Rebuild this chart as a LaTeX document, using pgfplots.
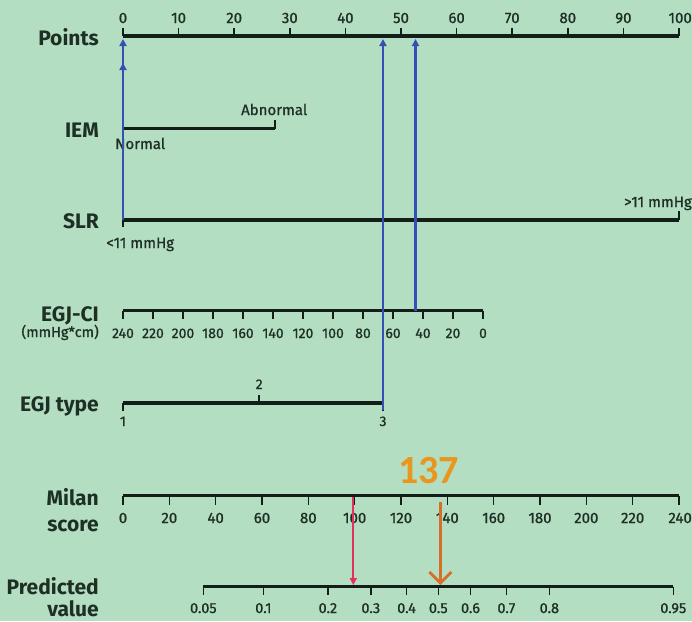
\documentclass[border=0pt]{standalone}
\usepackage{pgfplots}
\pgfplotsset{compat=1.18}
\usepackage{fontspec}
\setmainfont{Fira Sans}
\newfontfamily\tickfont{Fira Sans}[FakeBold=0.9]
\newfontfamily\numfont{Carlito}
\usetikzlibrary{arrows.meta}

\definecolor{bg}{RGB}{180,222,193}
\definecolor{ink}{RGB}{30,48,38}
\definecolor{scaleink}{RGB}{20,30,24}
\definecolor{pathblue}{RGB}{52,80,180}
\definecolor{pathred}{RGB}{228,48,92}
\definecolor{pathorange}{RGB}{214,110,44}
\definecolor{labelorange}{RGB}{232,150,30}

\tikzset{
  varname/.style={anchor=base east, inner sep=0pt, text=ink, font=\fontsize{21}{23}\selectfont\bfseries},
  lab/.style={anchor=base, inner sep=0pt, text=ink, font=\tickfont\fontsize{15}{17}\selectfont},
  slab/.style={anchor=base, inner sep=0pt, text=ink, font=\tickfont\fontsize{14}{16}\selectfont},
  plab/.style={anchor=base, inner sep=0pt, text=ink, font=\tickfont\fontsize{14.5}{16}\selectfont},
  scaleline/.style={scaleink, line width=3.8pt, line cap=butt},
  tickline/.style={scaleink, line width=1.5pt},
  bluepath/.style={color=pathblue, line width=2.4pt, -{Triangle[length=7pt,width=7pt]}},
}

% x: nomogram points (0..100), y: rows from the top
\begin{document}
\begin{tikzpicture}
\begin{axis}[
  scale only axis, width=692pt, height=621pt,
  xmin=-22.122, xmax=102.338, ymin=0, ymax=621, y dir=reverse,
  hide axis, clip=false,
]
\fill[bg] (axis cs:-22.122,0) rectangle (axis cs:102.338,621);

% ---------- Points ----------
\addplot[scaleline] coordinates {(0,36) (100,36)};
\addplot[tickline, no marks, quiver={u=0,v=-8}] coordinates {
  (0,36) (10,36) (20,36) (30,36) (40,36) (50,36) (60,36) (70,36) (80,36) (90,36) (100,36)};
\node[varname] at (axis cs:-4.32,45) {Points};
\node[lab] at (axis cs:0,23) {0};
\node[lab] at (axis cs:10,23) {10};
\node[lab] at (axis cs:20,23) {20};
\node[lab] at (axis cs:30,23) {30};
\node[lab] at (axis cs:40,23) {40};
\node[lab] at (axis cs:50,23) {50};
\node[lab] at (axis cs:60,23) {60};
\node[lab] at (axis cs:70,23) {70};
\node[lab] at (axis cs:80,23) {80};
\node[lab] at (axis cs:90,23) {90};
\node[lab, anchor=base east] at (axis cs:102.338,23) {100};

% ---------- IEM ----------
\addplot[scaleline] coordinates {(0,128.5) (27.3,128.5)};
\addplot[tickline, no marks, quiver={u=0,v=7}] coordinates {(0,128.5)};
\addplot[tickline, no marks, quiver={u=0,v=-9}] coordinates {(27.3,128.5)};
\node[varname] at (axis cs:-4.32,137) {IEM};
\node[lab] at (axis cs:27.2,115) {Abnormal};
\node[lab] at (axis cs:3.1,149) {Normal};

% ---------- SLR ----------
\addplot[scaleline] coordinates {(0,220) (100,220)};
\addplot[tickline, no marks, quiver={u=0,v=7}] coordinates {(0,220)};
\addplot[tickline, no marks, quiver={u=0,v=-9}] coordinates {(100,220)};
\node[varname] at (axis cs:-4.32,228) {SLR};
\node[lab] at (axis cs:3.1,248) {<11 mmHg};
\node[lab, anchor=base east] at (axis cs:102.338,207) {>11 mmHg};

% ---------- EGJ-CI (240 at the left, 0 at the right) ----------
\addplot[scaleline] coordinates {(0,310.5) (64.75,310.5)};
\addplot[tickline, no marks, quiver={u=0,v=8}] coordinates {
  (0,310.5) (5.396,310.5) (10.792,310.5) (16.188,310.5) (21.583,310.5) (26.979,310.5)
  (32.375,310.5) (37.771,310.5) (43.167,310.5) (48.563,310.5) (53.958,310.5)
  (59.354,310.5) (64.75,310.5)};
\node[varname] at (axis cs:-4.32,321) {EGJ-CI};
\node[plab, anchor=base east] at (axis cs:-4.32,337) {(mmHg*cm)};
\node[slab] at (axis cs:0,338) {240};
\node[slab] at (axis cs:5.396,338) {220};
\node[slab] at (axis cs:10.792,338) {200};
\node[slab] at (axis cs:16.188,338) {180};
\node[slab] at (axis cs:21.583,338) {160};
\node[slab] at (axis cs:26.979,338) {140};
\node[slab] at (axis cs:32.375,338) {120};
\node[slab] at (axis cs:37.771,338) {100};
\node[slab] at (axis cs:43.167,338) {80};
\node[slab] at (axis cs:48.563,338) {60};
\node[slab] at (axis cs:53.958,338) {40};
\node[slab] at (axis cs:59.354,338) {20};
\node[slab] at (axis cs:64.75,338) {0};

% ---------- EGJ type ----------
\addplot[scaleline] coordinates {(0,403) (46.76,403)};
\addplot[tickline, no marks, quiver={u=0,v=8}] coordinates {(0,403) (46.76,403)};
\addplot[tickline, no marks, quiver={u=0,v=-8}] coordinates {(24.5,403)};
\node[varname] at (axis cs:-4.32,411) {EGJ type};
\node[slab] at (axis cs:24.5,389) {2};
\node[slab] at (axis cs:0,426) {1};
\node[slab] at (axis cs:46.76,426) {3};

% ---------- Milan score (total points 0..240) ----------
\addplot[scaleline] coordinates {(0,495.5) (100,495.5)};
\addplot[tickline, no marks, quiver={u=0,v=9}] coordinates {
  (0,495.5) (8.333,495.5) (16.667,495.5) (25,495.5) (33.333,495.5) (41.667,495.5)
  (50,495.5) (58.333,495.5) (66.667,495.5) (75,495.5) (83.333,495.5) (91.667,495.5) (100,495.5)};
\node[varname] at (axis cs:-4.32,505) {Milan};
\node[varname] at (axis cs:-4.32,531) {score};
\node[lab] at (axis cs:0,523) {0};
\node[lab] at (axis cs:8.333,523) {20};
\node[lab] at (axis cs:16.667,523) {40};
\node[lab] at (axis cs:25,523) {60};
\node[lab] at (axis cs:33.333,523) {80};
\node[lab] at (axis cs:41.667,523) {100};
\node[lab] at (axis cs:50,523) {120};
\node[lab] at (axis cs:58.333,523) {140};
\node[lab] at (axis cs:66.667,523) {160};
\node[lab] at (axis cs:75,523) {180};
\node[lab] at (axis cs:83.333,523) {200};
\node[lab] at (axis cs:91.667,523) {220};
\node[lab, anchor=base east] at (axis cs:102.338,523) {240};

% ---------- Predicted value ----------
\addplot[scaleline] coordinates {(14.45,586.5) (98.97,586.5)};
\addplot[tickline, no marks, quiver={u=0,v=8}] coordinates {
  (14.45,586.5) (25.25,586.5) (36.85,586.5) (44.57,586.5) (51.0,586.5)
  (56.71,586.5) (62.5,586.5) (68.95,586.5) (76.68,586.5) (98.97,586.5)};
\node[varname] at (axis cs:-4.32,594) {Predicted};
\node[varname] at (axis cs:-4.32,616.5) {value};
\node[plab] at (axis cs:14.45,613) {0.05};
\node[plab] at (axis cs:25.25,613) {0.1};
\node[plab] at (axis cs:36.85,613) {0.2};
\node[plab] at (axis cs:44.57,613) {0.3};
\node[plab] at (axis cs:51.0,613) {0.4};
\node[plab] at (axis cs:56.71,613) {0.5};
\node[plab] at (axis cs:62.5,613) {0.6};
\node[plab] at (axis cs:68.95,613) {0.7};
\node[plab] at (axis cs:76.68,613) {0.8};
\node[plab] at (axis cs:98.97,613) {0.95};

% ---------- reading paths ----------
% IEM normal and SLR <11 mmHg both score 0 points
\addplot[bluepath] coordinates {(0,220) (0,39)};
\addplot[bluepath] coordinates {(0,128.5) (0,63)};
% EGJ type 3
\addplot[bluepath] coordinates {(46.76,410) (46.76,39)};
% EGJ-CI 45 mmHg*cm
\addplot[bluepath] coordinates {(52.61,310.5) (52.61,39)};
% total of about 99 points
\addplot[color=pathred, line width=2pt, -{Triangle[length=7pt,width=7pt]}] coordinates {(41.42,497) (41.42,585)};
% total of 137 points
\addplot[color=pathorange, line width=2.8pt, -{Straight Barb[length=11pt,width=22pt,line width=2.8pt]}] coordinates {(57.08,502) (57.08,585)};
\node[anchor=base, inner sep=0pt, text=labelorange, font=\numfont\bfseries\fontsize{40}{44}\selectfont] at (axis cs:54.95,483) {137};

\end{axis}
\end{tikzpicture}
\end{document}
